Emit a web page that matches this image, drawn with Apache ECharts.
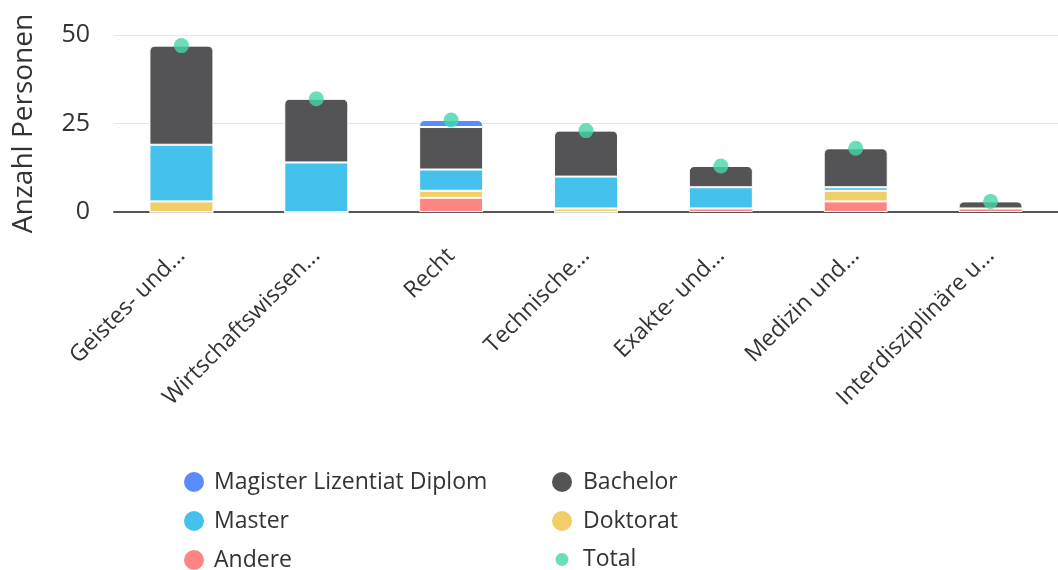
<!DOCTYPE html>
<html>
<head>
<meta charset="utf-8">
<script src="https://cdn.jsdelivr.net/npm/echarts@6/dist/echarts.min.js"></script>
<style>
html,body{margin:0;padding:0;background:#fff;}
#chart{width:1058px;height:570px;}
</style>
</head>
<body>
<div id="chart"></div>
<script>
const categories = ["Geistes- und...", "Wirtschaftswissen...", "Recht", "Technische...", "Exakte- und...", "Medizin und...", "Interdisziplinäre u..."];
const andere    = [0, 0, 4, 0, 1, 3, 1];
const doktorat  = [3, 0, 2, 1, 0, 3, 0];
const master    = [16, 14, 6, 9, 6, 1, 0];
const bachelor  = [28, 18, 12, 13, 6, 11, 2];
const magister  = [0, 0, 2, 0, 0, 0, 0];
const total     = [47, 32, 26, 23, 13, 18, 3];
const yTicks = [0, 25, 50];

const FONT = "'Open Sans', Lato, sans-serif";
const colors = {
  magister: '#5b8cfb',
  master: '#45c1ee',
  andere: '#ff8585',
  bachelor: '#545456',
  doktorat: '#f3cd68',
  total: '#45d6a9'
};

const stackOrder = [
  ['Andere', andere, colors.andere],
  ['Doktorat', doktorat, colors.doktorat],
  ['Master', master, colors.master],
  ['Bachelor', bachelor, colors.bachelor],
  ['Magister Lizentiat Diplom', magister, colors.magister]
];

const series = stackOrder.map(([name, arr, color], si) => {
  return {
    name: name,
    type: 'bar',
    stack: 'all',
    barWidth: 64,
    itemStyle: { color: color, borderColor: '#fff', borderWidth: 1 },
    emphasis: { disabled: true },
    data: arr.map((v, i) => {
      let isTop = v > 0;
      for (let k = si + 1; k < stackOrder.length; k++) {
        if (stackOrder[k][1][i] > 0) { isTop = false; }
      }
      return isTop ? { value: v, itemStyle: { borderRadius: [5, 5, 0, 0] } } : v;
    })
  };
});

series.push({
  name: 'Total',
  type: 'scatter',
  data: total,
  symbol: 'circle',
  symbolSize: 15,
  itemStyle: { color: colors.total },
  z: 10
});

const legendText = { fontFamily: FONT, fontSize: 23, lineHeight: 22, color: '#333' };
const smallDot = 'path://M0 0 M22 22 M4.5 11 A6.5 6.5 0 1 1 17.5 11 A6.5 6.5 0 1 1 4.5 11 Z';

const legendCommon = {
  orient: 'vertical',
  top: 470,
  height: 140,
  padding: 0,
  itemGap: 15,
  itemWidth: 30,
  itemHeight: 22,
  icon: 'circle',
  textStyle: legendText
};

const option = {
  animation: false,
  textStyle: { fontFamily: FONT },
  grid: { left: 114, right: 0, top: 35, bottom: 358, containLabel: false },
  legend: [
    Object.assign({}, legendCommon, {
      left: 182,
      data: ['Magister Lizentiat Diplom', 'Master', 'Andere']
    }),
    Object.assign({}, legendCommon, {
      left: 550,
      itemWidth: 32,
      data: ['Bachelor', 'Doktorat', { name: 'Total', icon: smallDot }]
    })
  ],
  xAxis: {
    type: 'category',
    data: categories,
    axisLine: { lineStyle: { color: '#555', width: 2 } },
    axisTick: { show: false },
    axisLabel: {
      rotate: 45,
      interval: 0,
      margin: 40,
      fontSize: 23,
      color: '#333',
      fontFamily: FONT
    }
  },
  yAxis: {
    type: 'value',
    min: 0,
    max: 50,
    interval: 25,
    name: 'Anzahl Personen',
    nameLocation: 'middle',
    nameGap: 76,
    nameTextStyle: { fontSize: 28, color: '#333', fontFamily: FONT },
    axisLine: { show: false },
    axisTick: { show: false },
    splitLine: { lineStyle: { color: '#e6e6e6', width: 1 } },
    axisLabel: {
      fontSize: 25,
      color: '#333',
      margin: 24,
      fontFamily: FONT,
      formatter: function (v) { return yTicks.indexOf(v) >= 0 ? String(v) : ''; }
    }
  },
  series: series
};

const chart = echarts.init(document.getElementById('chart'), null, { renderer: 'canvas' });
chart.setOption(option);
</script>
</body>
</html>
